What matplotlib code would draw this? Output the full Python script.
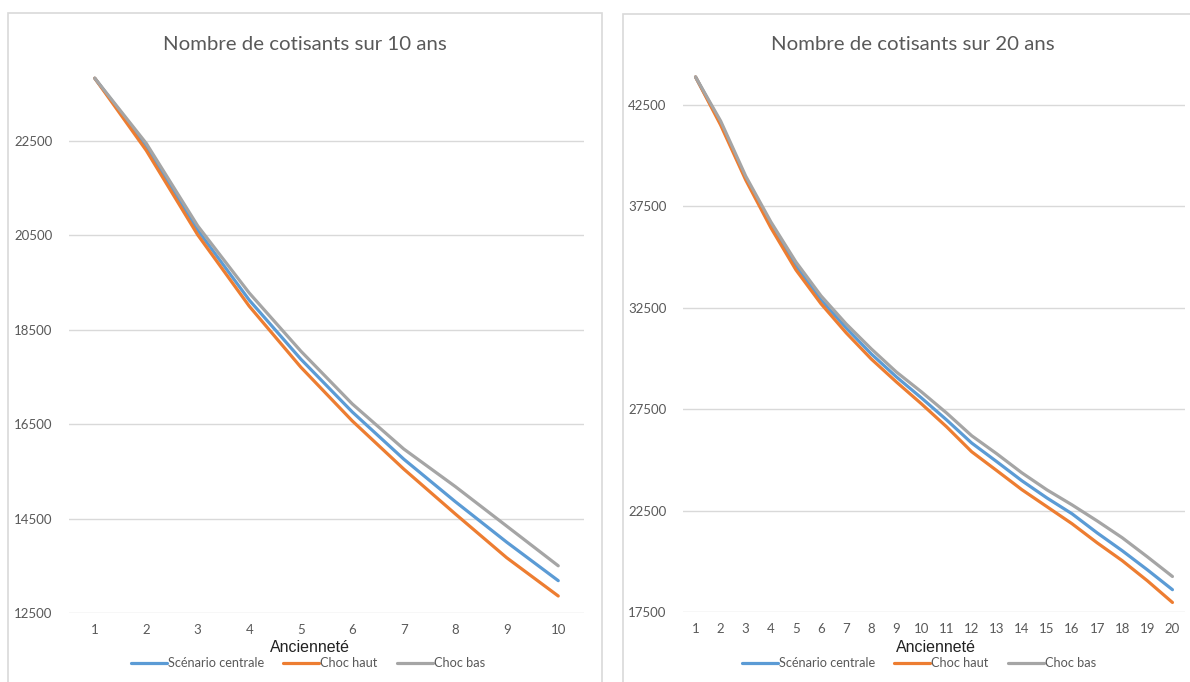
import matplotlib
matplotlib.use("Agg")
import matplotlib.pyplot as plt
from matplotlib.patches import Rectangle

# ancienneté (années)
annees_10 = list(range(1, 11))
annees_20 = list(range(1, 21))

# nombre de cotisants, projection sur 10 ans
centrale_10 = [23830, 22400, 20610, 19130, 17880, 16760, 15760, 14860, 14000, 13185]
haut_10 = [23830, 22300, 20510, 19000, 17710, 16570, 15550, 14600, 13670, 12860]
bas_10 = [23830, 22450, 20700, 19280, 18050, 16930, 15975, 15180, 14340, 13500]

# nombre de cotisants, projection sur 20 ans
centrale_20 = [43870, 41600, 38880, 36580, 34560, 32880, 31500, 30220, 29090, 28050,
               26970, 25830, 24910, 23970, 23120, 22340, 21400, 20520, 19580, 18600]
haut_20 = [43870, 41500, 38790, 36440, 34360, 32690, 31260, 29970, 28840, 27760,
           26630, 25400, 24470, 23530, 22690, 21850, 20910, 20030, 19040, 17970]
bas_20 = [43870, 41700, 38980, 36730, 34750, 33080, 31700, 30470, 29330, 28350,
          27310, 26190, 25300, 24360, 23520, 22780, 21990, 21160, 20220, 19250]

ticks_10 = [12500, 14500, 16500, 18500, 20500, 22500]
ticks_20 = [17500, 22500, 27500, 32500, 37500, 42500]

noms = ["Scénario centrale", "Choc haut", "Choc bas"]
couleurs = ["#5B9BD5", "#ED7D31", "#A5A5A5"]
texte = "#595959"
police = ["Lato", "DejaVu Sans"]

W, H = 1190, 682
fig = plt.figure(figsize=(W / 100, H / 100), dpi=100)
fig.patch.set_facecolor("white")


def px(x0, y0, x1, y1):
    # boite en pixels (haut-gauche / bas-droite) -> coordonnées figure
    return [x0 / W, 1 - y1 / H, (x1 - x0) / W, (y1 - y0) / H]


# cadres des deux graphiques, sous les axes
for x0, y0, x1 in [(8, 13, 602), (623, 14, 1196)]:
    fig.patches.append(Rectangle((x0 / W, -0.05), (x1 - x0) / W, 1 - y0 / H + 0.05,
                                 transform=fig.transFigure, facecolor="white",
                                 edgecolor="#D9D9D9", lw=1.2, zorder=-1))


def graphique(box, x, series, ticks, ymax, titre, cx, legende_x):
    ax = fig.add_axes(px(*box))
    for s, nom, c in zip(series, noms, couleurs):
        ax.plot(x, s, color=c, lw=2.3, label=nom, solid_capstyle="round")
    ax.set_xlim(0.5, len(x) + 0.5)
    ax.set_ylim(ticks[0], ymax)
    ax.set_yticks(ticks)
    ax.set_xticks(x)
    ax.grid(axis="y", color="#D9D9D9", lw=1)
    ax.set_axisbelow(True)
    for sp in ax.spines.values():
        sp.set_visible(False)
    ax.tick_params(length=0, colors=texte, labelsize=9.5)
    ax.tick_params(axis="y", pad=12)
    ax.tick_params(axis="x", pad=8)
    for lab in ax.get_xticklabels() + ax.get_yticklabels():
        lab.set_family(police)
    ax.set_facecolor("none")
    fig.text(cx / W, 1 - 45 / H, titre, ha="center", va="center",
             fontsize=14.7, color=texte, family=police)
    fig.text(legende_x[0] / W, 1 - 648 / H, "Ancienneté", ha="center", va="center",
             fontsize=11.5, color="#222222", family="Liberation Sans")
    leg = fig.legend(*ax.get_legend_handles_labels(), loc="center",
                     bbox_to_anchor=(legende_x[1] / W, 1 - 663 / H), ncol=3,
                     frameon=False, handlelength=2.8, handletextpad=0.1,
                     columnspacing=1.5, prop={"family": police, "size": 9.2})
    for t in leg.get_texts():
        t.set_color(texte)
    return ax


graphique((69, 70, 584, 613), annees_10, [centrale_10, haut_10, bas_10], ticks_10,
          24004, "Nombre de cotisants sur 10 ans", 305, (310, 308))
graphique((683, 70, 1185, 612), annees_20, [centrale_20, haut_20, bas_20], ticks_20,
          44214, "Nombre de cotisants sur 20 ans", 913, (936, 919))

fig.savefig("out.png", dpi=100, facecolor="white")
